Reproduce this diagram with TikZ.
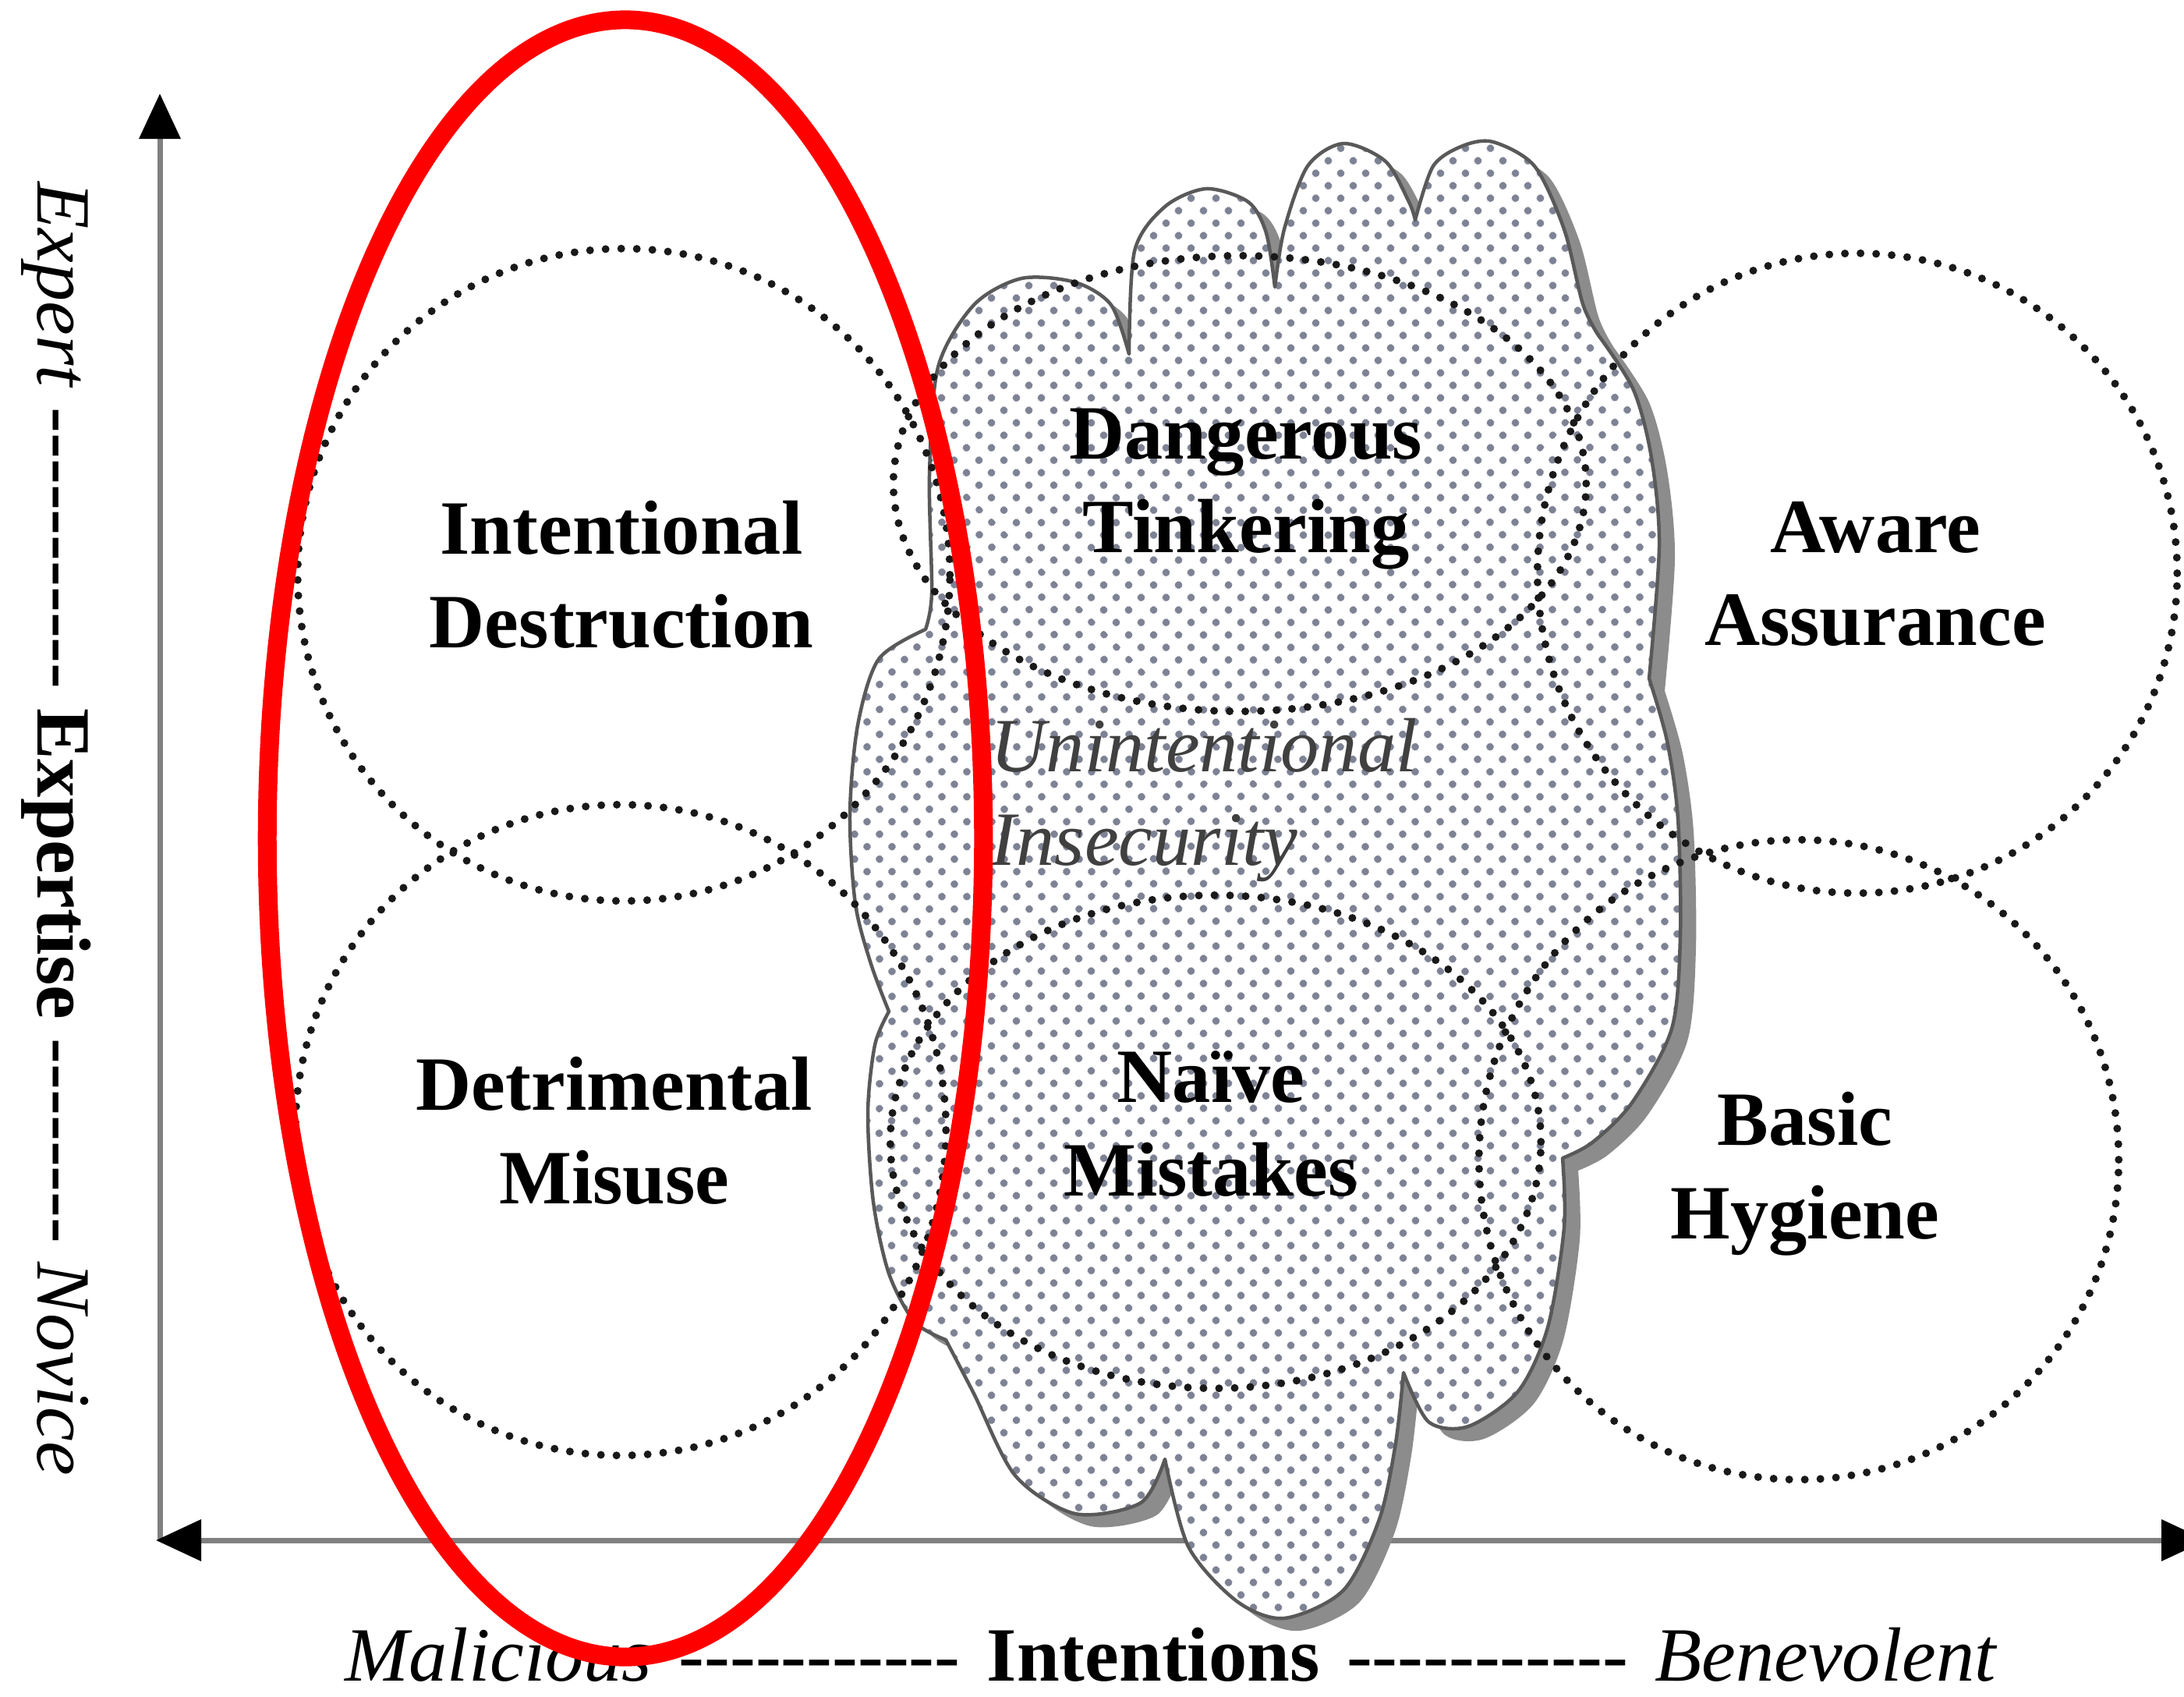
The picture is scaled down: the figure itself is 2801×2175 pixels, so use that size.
\documentclass[tikz,border=0pt]{standalone}
\usepackage{fontspec}
\setmainfont{Liberation Serif}
\usetikzlibrary{patterns.meta,arrows.meta}
\definecolor{dotc}{RGB}{125,130,148}
\newcommand\cloudpath{
plot[smooth] coordinates {(1448,454) (1455,322) (1494,265) (1547,242) (1601,259) (1624,299) (1635,368)}
-- plot[smooth] coordinates {(1635,368) (1647,294) (1677,213) (1723,184) (1777,207) (1807,259) (1815,282)}
-- plot[smooth] coordinates {(1815,282) (1838,213) (1876,187) (1915,182) (1968,213) (2006,294) (2030,390) (2050,430)}
-- plot[smooth] coordinates {(2050,430) (2095,500) (2118,587) (2128,700) (2115,870)}
-- plot[smooth] coordinates {(2115,870) (2138,950) (2152,1050) (2155,1200) (2144,1319) (2093,1414) (2042,1465) (2004,1485)}
-- plot[smooth] coordinates {(2004,1485) (2006,1574) (1985,1702) (1947,1784) (1883,1829) (1832,1823) (1800,1760)}
-- plot[smooth] coordinates {(1800,1760) (1790,1850) (1769,1948) (1723,2039) (1647,2075) (1586,2053) (1524,1983) (1494,1871)}
-- plot[smooth] coordinates {(1494,1871) (1463,1927) (1379,1941) (1302,1892) (1249,1787) (1213,1718)}
-- plot[smooth] coordinates {(1213,1718) (1173,1695) (1140,1633) (1120,1541) (1113,1427) (1122,1340) (1140,1297)}
-- plot[smooth] coordinates {(1140,1297) (1117,1236) (1097,1159) (1090,1044) (1100,930) (1127,845) (1187,807)}
-- plot[smooth] coordinates {(1187,807) (1195,760) (1192,609) (1203,471) (1249,391) (1310,357) (1379,362) (1425,391) (1448,454)}
-- cycle}
\begin{document}
\begin{tikzpicture}[x=0.01cm, y=-0.01cm,
  lab/.style={font=\fontsize{28}{34}\selectfont\bfseries, align=center, inner sep=0pt},
  itlab/.style={font=\fontsize{28}{34}\selectfont\itshape, align=left, inner sep=0pt},
  axlab/.style={font=\fontsize{28}{34}\selectfont, inner sep=0pt},
  zone/.style={draw=black!90, line width=1.0mm, dash pattern=on 0pt off 2.0mm, line cap=round},
  axis/.style={draw=black!50, line width=0.7mm}]
\useasboundingbox (0,0) rectangle (2801,2175);
\fill[white] (0,0) rectangle (2801,2175);

% axes
\coordinate (origin) at (205,1975);
\coordinate (ytip) at (205,120);
\coordinate (xleft) at (200,1975);
\coordinate (xright) at (2830,1975);
\draw[axis, arrows={-Triangle[length=5.8mm,width=5.2mm,color=black]}] (origin) -- (ytip);
\draw[axis, arrows={Triangle[length=5.8mm,width=5.2mm,color=black]-Triangle[length=5.8mm,width=5.2mm,color=black]}] (xleft) -- (xright);

% cloud
\fill[black!45, shift={(20,16)}] \cloudpath;
\fill[white] \cloudpath;
\fill[pattern={Dots[distance=2.25mm, radius=0.47mm, angle=45]}, pattern color=dotc] \cloudpath;
\draw[black!65, line width=0.45mm, line join=round] \cloudpath;

% zones
\draw[zone] (800,737) circle [radius=4.18cm];
\draw[zone] (796,1449) circle [radius=4.17cm];
\draw[zone] (2382,735) circle [radius=4.10cm];
\draw[zone] (2307,1487) circle [radius=4.10cm];
\draw[zone] (1590,620) ellipse [x radius=4.44cm, y radius=2.92cm];
\draw[zone] (1559,1464) ellipse [x radius=4.17cm, y radius=3.16cm];

% labels
\node[lab] (intdes) at (797,737) {Intentional\\Destruction};
\node[lab] (detmis) at (788,1450) {Detrimental\\Misuse};
\node[lab] (dangtink) at (1598,627) {Dangerous\\Tinkering};
\node[lab] (aware) at (2405,736) {Aware\\Assurance};
\node[lab] (naive) at (1553,1441) {Naïve\\Mistakes};
\node[lab] (basic) at (2315,1505) {Basic\\Hygiene};
\node[itlab, anchor=west, text=black!75] (uninsec) at (1270,1026) {Unintentional\\Insecurity};

% axis labels
\node[axlab, anchor=base] (xlabel) at (1502,2155)
  {\textit{Malicious}\hspace{0.35em}-{}-{}-{}-{}-{}-{}-{}-{}-{}-{}-\hspace{0.35em}\textbf{Intentions}\hspace{0.35em}-{}-{}-{}-{}-{}-{}-{}-{}-{}-{}-\hspace{0.35em}\textit{Benevolent}};
\node[axlab, anchor=base, rotate=-90] (ylabel) at (48,1063)
  {\textit{Expert} -{}-{}-{}-{}-{}-{}-{}-{}-{}-{}- \textbf{Expertise} -{}-{}-{}-{}-{}-{}-{}- \textit{Novice}};

% highlight
\draw[red, line width=2.4mm] (802,1075) ellipse [x radius=4.59cm, y radius=10.49cm];
\end{tikzpicture}
\end{document}
